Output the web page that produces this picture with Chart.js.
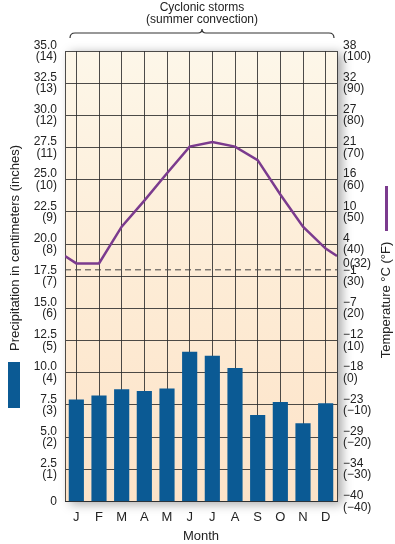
<!DOCTYPE html>
<html lang="en">
<head>
    <meta charset="UTF-8">
    <title>Climograph</title>
    <script src="https://cdn.jsdelivr.net/npm/chart.js"></script>
    <style>
        body { margin: 0; background: #fff; }
    </style>
</head>
<body>
    <canvas id="myChart" width="395" height="544"></canvas>
    <script>
        // data
        const months = ['J', 'F', 'M', 'A', 'M', 'J', 'J', 'A', 'S', 'O', 'N', 'D'];
        const precipCm = [7.9, 8.2, 8.7, 8.55, 8.75, 11.6, 11.3, 10.35, 6.7, 7.7, 6.05, 7.6];
        const tempF = [34, 34, 45.4, 53.5, 62, 70.3, 71.7, 70.3, 66.1, 55.4, 45.4, 38.6];

        // tick labels
        const tempTickF = [-40, -30, -20, -10, 0, 10, 20, 30, 40, 50, 60, 70, 80, 90, 100, 32];
        const tempTickC = [-40, -34, -29, -23, -18, -12, -7, -1, 4, 10, 16, 21, 27, 32, 38, 0];
        const freezingF = 32;

        const font = 'Liberation Sans, Arial, sans-serif';
        const ink = '#222';
        const gridColor = 'rgba(45,45,45,0.85)';
        const minus = (n) => String(n).replace('-', '\u2212');

        // line wraps round the year: edges are the Dec/Jan mean
        const edgeTemp = (tempF[11] + tempF[0]) / 2;
        const tempPoints = [{ x: -0.5, y: edgeTemp }]
            .concat(tempF.map((t, i) => ({ x: i, y: t })))
            .concat([{ x: months.length - 0.5, y: edgeTemp }]);
        const precipPoints = precipCm.map((v, i) => ({ x: i, y: v }));

        const extras = {
            id: 'extras',
            beforeDraw(chart) {
                const { ctx, chartArea: a } = chart;
                ctx.save();
                const g = ctx.createLinearGradient(0, a.top, 0, a.bottom);
                g.addColorStop(0, '#fdf7e9');
                g.addColorStop(0.5, '#fdecd6');
                g.addColorStop(1, '#fde3c8');
                ctx.shadowColor = 'rgba(0,0,0,0.35)';
                ctx.shadowBlur = 10;
                ctx.shadowOffsetX = 5;
                ctx.shadowOffsetY = 2;
                ctx.fillStyle = g;
                ctx.fillRect(a.left, a.top, a.right - a.left, a.bottom - a.top);
                ctx.restore();
            },
            beforeDatasetsDraw(chart) {
                const { ctx, chartArea: a } = chart;
                const y = chart.scales.y1.getPixelForValue(freezingF);
                ctx.save();
                ctx.strokeStyle = '#444';
                ctx.lineWidth = 1;
                ctx.setLineDash([6, 4]);
                ctx.beginPath();
                ctx.moveTo(a.left, y);
                ctx.lineTo(a.right, y);
                ctx.stroke();
                ctx.restore();
            },
            afterDraw(chart) {
                const { ctx, chartArea: a } = chart;
                ctx.save();
                // brace over the summer storms
                const l = a.left + 5, r = a.right - 3, mid = (l + r) / 2, by = 33;
                ctx.strokeStyle = '#333';
                ctx.lineWidth = 1.2;
                ctx.beginPath();
                ctx.moveTo(l, by + 5);
                ctx.quadraticCurveTo(l, by, l + 5, by);
                ctx.lineTo(mid - 4, by);
                ctx.quadraticCurveTo(mid, by, mid, by - 4);
                ctx.quadraticCurveTo(mid, by, mid + 4, by);
                ctx.lineTo(r - 5, by);
                ctx.quadraticCurveTo(r, by, r, by + 5);
                ctx.stroke();

                ctx.fillStyle = ink;
                ctx.font = '12px ' + font;
                ctx.textAlign = 'center';
                ctx.textBaseline = 'middle';
                ctx.fillText('Cyclonic storms', mid, 8);
                ctx.fillText('(summer convection)', mid, 20);

                // left title + bar key
                ctx.font = '13px ' + font;
                ctx.save();
                ctx.translate(15, 248);
                ctx.rotate(-Math.PI / 2);
                ctx.fillText('Precipitation in centimeters (inches)', 0, 0);
                ctx.restore();
                ctx.fillStyle = '#0b5a94';
                ctx.fillRect(8, 362, 12, 46);

                // right title + line key
                ctx.fillStyle = ink;
                ctx.save();
                ctx.translate(386, 300);
                ctx.rotate(-Math.PI / 2);
                ctx.fillText('Temperature \u00b0C (\u00b0F)', 0, 0);
                ctx.restore();
                ctx.strokeStyle = '#7b3b8e';
                ctx.lineWidth = 3;
                ctx.beginPath();
                ctx.moveTo(386.5, 186);
                ctx.lineTo(386.5, 231);
                ctx.stroke();
                ctx.restore();
            }
        };

        const ctx = document.getElementById('myChart').getContext('2d');
        const chart = new Chart(ctx, {
            type: 'bar',
            data: {
                datasets: [
                    {
                        type: 'line',
                        data: tempPoints,
                        xAxisID: 'x',
                        yAxisID: 'y1',
                        borderColor: '#7b3b8e',
                        borderWidth: 2.5,
                        pointRadius: 0,
                        tension: 0,
                        order: 0
                    },
                    {
                        data: precipPoints,
                        xAxisID: 'x',
                        yAxisID: 'y',
                        backgroundColor: '#0b5a94',
                        barThickness: 14.5,
                        order: 1
                    }
                ]
            },
            options: {
                responsive: false,
                devicePixelRatio: 1,
                animation: false,
                layout: { padding: { top: 51, left: 0, right: 0, bottom: 0 } },
                plugins: {
                    legend: { display: false },
                    tooltip: { enabled: false }
                },
                scales: {
                    x: {
                        type: 'linear',
                        min: -0.5,
                        max: months.length - 0.5,
                        offset: false,
                        afterBuildTicks: (s) => { s.ticks = months.map((m, i) => ({ value: i })); },
                        grid: { offset: false, color: gridColor, drawTicks: false },
                        border: { color: gridColor },
                        ticks: {
                            autoSkip: false,
                            maxRotation: 0,
                            color: ink,
                            font: { family: font, size: 13 },
                            padding: 8,
                            callback: (v) => months[v]
                        },
                        title: {
                            display: true, text: 'Month', color: ink,
                            font: { family: font, size: 13 },
                            padding: { top: 0, bottom: 0 }
                        },
                        afterFit: (s) => { s.height = 42.5; }
                    },
                    y: {
                        position: 'left',
                        min: 0,
                        max: 35,
                        grid: { color: gridColor, drawTicks: false },
                        border: { color: gridColor },
                        ticks: {
                            stepSize: 2.5,
                            color: ink,
                            padding: 8,
                            font: { family: font, size: 12, lineHeight: 0.95 },
                            callback: (v) => v === 0 ? '0' : [v.toFixed(1), '(' + (v / 2.5) + ')']
                        },
                        afterFit: (s) => { s.width = 65; }
                    },
                    y1: {
                        position: 'right',
                        min: -40,
                        max: 100,
                        grid: { display: false, drawTicks: false },
                        border: { color: gridColor },
                        afterBuildTicks: (s) => { s.ticks = tempTickF.map((v) => ({ value: v })); },
                        ticks: {
                            autoSkip: false,
                            color: ink,
                            padding: 6,
                            font: { family: font, size: 12, lineHeight: 0.95 },
                            callback: (v) => {
                                const c = tempTickC[tempTickF.indexOf(v)];
                                if (v === freezingF) return [c + '(' + v + ')', ''];
                                return [minus(c), '(' + minus(v) + ')'];
                            }
                        },
                        afterFit: (s) => { s.width = 58; }
                    }
                }
            },
            plugins: [extras]
        });
    </script>
</body>
</html>
